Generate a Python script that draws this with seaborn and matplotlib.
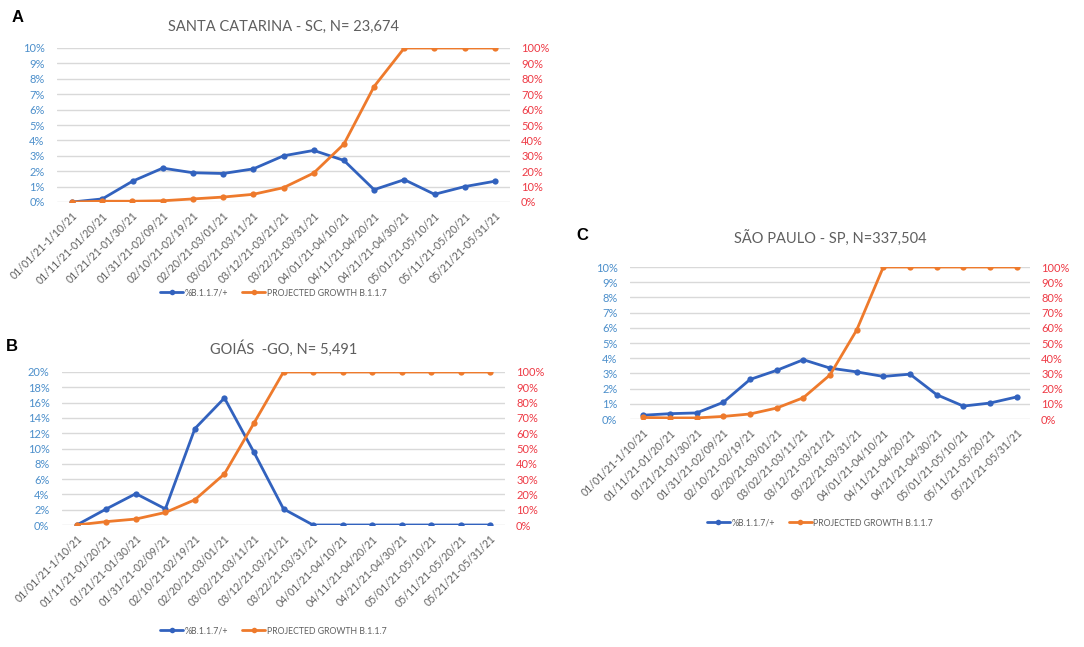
import numpy as np
import pandas as pd
import matplotlib
matplotlib.use("Agg")
import matplotlib.pyplot as plt
import seaborn as sns
from matplotlib.lines import Line2D
from matplotlib.ticker import FuncFormatter

periods = ["01/01/21-1/10/21", "01/11/21-01/20/21", "01/21/21-01/30/21",
           "01/31/21-02/09/21", "02/10/21-02/19/21", "02/20/21-03/01/21",
           "03/02/21-03/11/21", "03/12/21-03/21/21", "03/22/21-03/31/21",
           "04/01/21-04/10/21", "04/11/21-04/20/21", "04/21/21-04/30/21",
           "05/01/21-05/10/21", "05/11/21-05/20/21", "05/21/21-05/31/21"]

sc_b117 = [0, 0.2, 1.35, 2.2, 1.9, 1.85, 2.15, 3.0, 3.35, 2.7, 0.8, 1.45, 0.5, 1.0, 1.35]
sc_proj = [0, 0.5, 0.5, 0.8, 2.0, 3.2, 5.0, 9.3, 18.8, 37.6, 75, 100, 100, 100, 100]

go_b117 = [0, 2.1, 4.1, 2.1, 12.6, 16.6, 9.5, 2.1, 0, 0, 0, 0, 0, 0, 0]
go_proj = [0, 2.2, 3.9, 8.2, 16.5, 33.4, 66.6, 100, 100, 100, 100, 100, 100, 100, 100]

sp_b117 = [0.25, 0.35, 0.4, 1.1, 2.6, 3.2, 3.9, 3.35, 3.1, 2.8, 2.95, 1.6, 0.85, 1.05, 1.45]
sp_proj = [1.0, 0.7, 0.7, 1.7, 3.3, 7.2, 14, 29, 58.5, 100, 100, 100, 100, 100, 100]

titles = ["SANTA CATARINA - SC, N= 23,674", "GOIÁS  -GO, N= 5,491", "SÃO PAULO - SP, N=337,504"]
letters = ["A", "B", "C"]
left_max = [10, 20, 10]
left_step = [1, 2, 1]
series_label = ["%B.1.1.7/+", "PROJECTED GROWTH B.1.1.7"]

BLUE = "#3262BE"
ORANGE = "#EE7A2C"
LTICK = "#4C8FCB"
RTICK = "#EE3A45"
GRID = "#D9D9D9"
TXT = "#5F5F5F"

sns.set_theme(style="white")
plt.rcParams["font.family"] = ["Lato", "DejaVu Sans"]

fig = plt.figure(figsize=(10.84, 6.47), dpi=100)
W, H = 1084, 647

def fx(px):
    return px / W

def fy(py):
    return 1 - py / H

# axes boxes in pixels: left, top, right, bottom
boxes = [(57, 48, 510, 202), (62, 372, 505, 525), (630, 267, 1030, 419)]
letter_pos = [(18, 18), (12, 347), (582, 236)]
title_y = [27, 349, 239]
legend_y = [293, 631, 523]

datasets = [(sc_b117, sc_proj), (go_b117, go_proj), (sp_b117, sp_proj)]

for i, ((l, t, r, b), (blue, orange)) in enumerate(zip(boxes, datasets)):
    ax = fig.add_axes([fx(l), fy(b), fx(r - l), (b - t) / H])
    df = pd.DataFrame({"pos": np.arange(len(periods)), "period": periods,
                       "b117": blue, "proj": orange})
    for y in np.arange(0, left_max[i] + 0.01, left_step[i]):
        ax.axhline(y, color=GRID, lw=1.0, zorder=0)
    sns.lineplot(data=df, x="pos", y="b117", ax=ax, color=BLUE, marker="o",
                 markersize=4.5, markeredgewidth=0, lw=2.0, sort=False, zorder=3)
    ax.set_ylim(0, left_max[i])
    ax.set_yticks(np.arange(0, left_max[i] + 0.01, left_step[i]))
    ax.yaxis.set_major_formatter(FuncFormatter(lambda v, p: f"{v:.0f}%"))
    ax.set_xlim(-0.5, len(periods) - 0.5)
    ax.set_xticks(df["pos"])
    ax.set_xticklabels(periods, rotation=45, ha="right", rotation_mode="anchor",
                       fontsize=7.6, color=TXT)
    ax.tick_params(axis="x", length=0, pad=6)
    ax.tick_params(axis="y", length=0, pad=9, labelsize=8, labelcolor=LTICK)
    ax.set_xlabel("")
    ax.set_ylabel("")
    for s in ax.spines.values():
        s.set_visible(False)
    ax.grid(False)

    ax2 = ax.twinx()
    sns.lineplot(data=df, x="pos", y="proj", ax=ax2, color=ORANGE, marker="o",
                 markersize=4.5, markeredgewidth=0, lw=2.0, sort=False, zorder=2)
    ax2.set_ylim(0, 100)
    ax2.set_yticks(np.arange(0, 101, 10))
    ax2.yaxis.set_major_formatter(FuncFormatter(lambda v, p: f"{v:.0f}%"))
    ax2.tick_params(axis="y", length=0, pad=8, labelsize=8, labelcolor=RTICK)
    ax2.set_ylabel("")
    ax2.grid(False)
    for s in ax2.spines.values():
        s.set_visible(False)

    cx = (l + r) / 2
    fig.text(fx(cx), fy(title_y[i]), titles[i], ha="center", va="center",
             fontsize=10.5, color=TXT)
    fig.text(fx(letter_pos[i][0]), fy(letter_pos[i][1]), letters[i],
             ha="center", va="center", fontsize=12, fontweight="bold",
             color="black", family=["Liberation Sans", "DejaVu Sans"])

    handles = [Line2D([], [], color=BLUE, lw=2.0, marker="o", markersize=4, markeredgewidth=0),
               Line2D([], [], color=ORANGE, lw=2.0, marker="o", markersize=4, markeredgewidth=0)]
    fig.legend(handles, series_label, loc="center",
               bbox_to_anchor=(fx(cx - 10), fy(legend_y[i])), ncol=2, frameon=False,
               fontsize=6.3, labelcolor=TXT, handlelength=2.6, handletextpad=0.2,
               columnspacing=1.6)

fig.savefig("out.png", dpi=100)
